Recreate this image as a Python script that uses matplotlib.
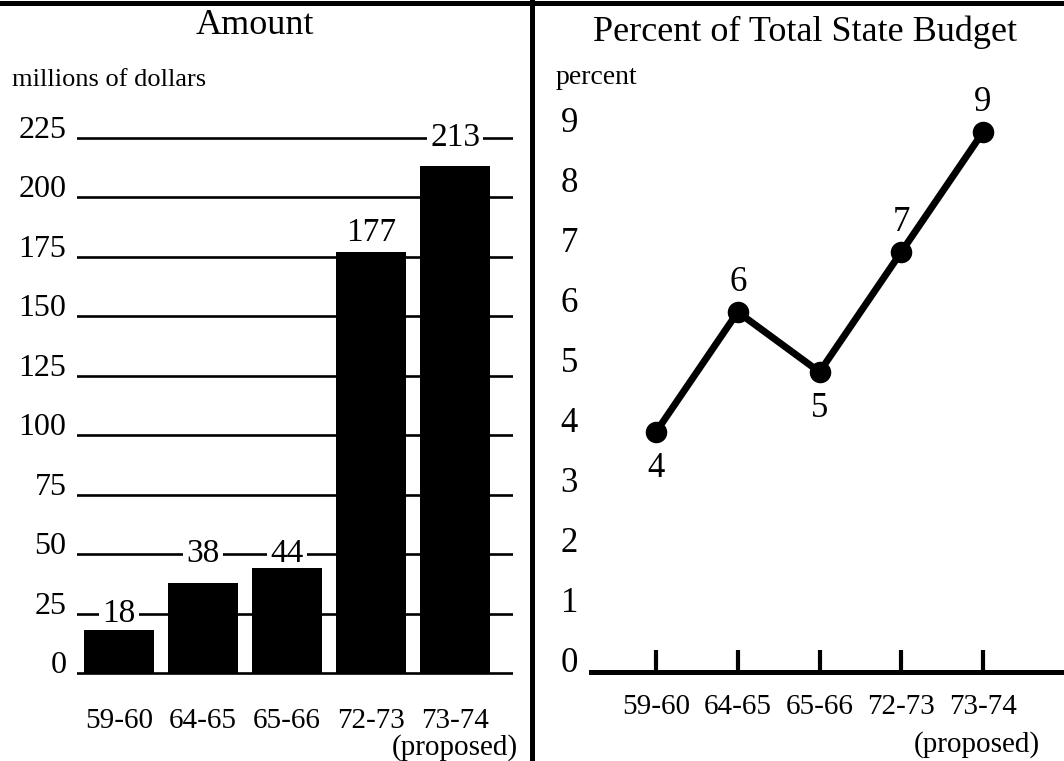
import matplotlib
matplotlib.use("Agg")
import matplotlib.pyplot as plt
from matplotlib.lines import Line2D

plt.rcParams['font.family'] = ['Liberation Serif', 'DejaVu Serif']

# ---- data ----
years = ["59-60", "64-65", "65-66", "72-73", "73-74"]
last_note = "(proposed)"
amount = [18, 38, 44, 177, 213]            # millions of dollars
percent = [4, 6, 5, 7, 9]                  # percent of total state budget
amount_ticks = [0, 25, 50, 75, 100, 125, 150, 175, 200, 225]
percent_ticks = [0, 1, 2, 3, 4, 5, 6, 7, 8, 9]

W, H = 1064, 761
fig = plt.figure(figsize=(W / 100, H / 100), dpi=100)
fig.patch.set_facecolor('white')

def px(x0, y_top, x1, y_bot):
    return [x0 / W, 1 - y_bot / H, (x1 - x0) / W, (y_bot - y_top) / H]

# ---------------- Left panel: Amount ----------------
axL = fig.add_axes(px(77, 130.8, 513, 677.8))
xs = list(range(len(years)))
axL.bar(xs, amount, width=0.83, color='black', zorder=3)
axL.set_xlim(-0.5, 4.69)
axL.set_ylim(-2, 228)
axL.set_yticks(amount_ticks)
axL.set_yticklabels([str(t) for t in amount_ticks])
axL.yaxis.grid(True, color='black', linewidth=1.9, zorder=1)
axL.set_axisbelow(True)
for s in axL.spines.values():
    s.set_visible(False)
axL.tick_params(axis='y', length=0, pad=7.5, labelsize=23)
axL.set_xticks(xs)
axL.set_xticklabels(years)
axL.tick_params(axis='x', length=0, pad=22, labelsize=21)
plt.setp(axL.get_yticklabels(), va='baseline')
axL.annotate(last_note, (xs[-1], 0), xycoords=('data', 'axes fraction'),
             xytext=(0, -50), textcoords='offset points',
             ha='center', va='center', fontsize=21)

# value labels (snapped onto a gridline when close to one)
for x, v in zip(xs, amount):
    y = v + 8
    near = min(amount_ticks, key=lambda t: abs(t - y))
    if abs(near - y) <= 5:
        y = near
    axL.text(x, y, str(v), ha='center', va='center', fontsize=24, zorder=2.5,
             bbox=dict(facecolor='white', edgecolor='none', pad=2.5))

fig.text(255 / W, 1 - 34 / H, "Amount", fontsize=26, ha='center', va='baseline')
fig.text(12 / W, 1 - 86 / H, "millions of dollars", fontsize=19, ha='left', va='baseline')

# ---------------- Right panel: Percent ----------------
axR = fig.add_axes(px(591, 96, 1064, 672))
axR.plot(xs, percent, color='black', linewidth=5, marker='o', markersize=14.5,
         solid_capstyle='round', clip_on=False, zorder=3)
axR.set_xlim(-0.795, 4.99)
axR.set_ylim(0, 9.6)
for k in ['top', 'right', 'left']:
    axR.spines[k].set_visible(False)
axR.spines['bottom'].set_linewidth(3.6)
axR.set_yticks(percent_ticks)
axR.set_yticklabels([str(t) for t in percent_ticks])
axR.tick_params(axis='y', length=0, pad=9.4, labelsize=25)
plt.setp(axR.get_yticklabels(), va='baseline')
axR.set_xticks(xs)
axR.set_xticklabels(years)
axR.tick_params(axis='x', direction='in', length=16, width=3, pad=16, labelsize=21)
axR.annotate(last_note, (xs[-1] - 0.08, 0), xycoords=('data', 'axes fraction'),
             xytext=(0, -52), textcoords='offset points',
             ha='center', va='center', fontsize=21)

for i, v in enumerate(percent):
    nb = [percent[j] for j in (i - 1, i + 1) if 0 <= j < len(percent)]
    below = all(v < n for n in nb)
    axR.annotate(str(v), (i, v), xytext=(0, -26 if below else 21),
                 textcoords='offset points', ha='center', va='center',
                 fontsize=25)

fig.text(805 / W, 1 - 41 / H, "Percent of Total State Budget", fontsize=26,
         ha='center', va='baseline')
fig.text(556 / W, 1 - 84 / H, "percent", fontsize=20, ha='left', va='baseline')

# ---------------- Frame lines ----------------
fig.add_artist(Line2D([0, 1], [1 - 2.5 / H, 1 - 2.5 / H], color='black',
                      linewidth=3.6, transform=fig.transFigure))
fig.add_artist(Line2D([532 / W, 532 / W], [0, 1], color='black',
                      linewidth=3.6, transform=fig.transFigure))

fig.savefig("out.png", dpi=100)
